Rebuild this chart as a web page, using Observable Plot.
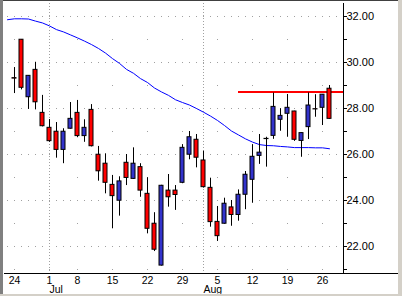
<!DOCTYPE html>
<html><head><meta charset="utf-8">
<script src="https://cdn.jsdelivr.net/npm/d3@7"></script>
<script src="https://cdn.jsdelivr.net/npm/@observablehq/plot@0.6"></script>
<style>
html,body{margin:0;padding:0;background:#d4d0c8;}
#wrap{position:relative;width:402px;height:296px;overflow:hidden;background:#d4d0c8;}
#wrap svg{position:absolute;left:0;top:0;}
.b{position:absolute;pointer-events:none;}
</style></head><body><div id="wrap"></div>
<script>
// trading sessions (first one only carries the moving average)
const sessions = ["2002-06-21","2002-06-24","2002-06-25","2002-06-26","2002-06-27","2002-06-28",
"2002-07-01","2002-07-02","2002-07-03","2002-07-05",
"2002-07-08","2002-07-09","2002-07-10","2002-07-11","2002-07-12",
"2002-07-15","2002-07-16","2002-07-17","2002-07-18","2002-07-19",
"2002-07-22","2002-07-23","2002-07-24","2002-07-25","2002-07-26",
"2002-07-29","2002-07-30","2002-07-31","2002-08-01","2002-08-02",
"2002-08-05","2002-08-06","2002-08-07","2002-08-08","2002-08-09",
"2002-08-12","2002-08-13","2002-08-14","2002-08-15","2002-08-16",
"2002-08-19","2002-08-20","2002-08-21","2002-08-22","2002-08-23",
"2002-08-26","2002-08-27"];
const candleDates = sessions.slice(1);
const opens  = [29.32,30.99,28.49,29.68,27.81,27.16,26.99,26.20,27.12,27.81,26.80,27.94,25.99,25.60,24.68,23.99,25.64,24.94,25.45,24.29,22.99,21.17,24.43,24.43,24.77,25.99,26.64,25.74,24.55,23.07,22.99,23.70,23.37,24.25,24.90,25.94,26.68,26.81,27.51,27.77,27.87,26.59,27.19,27.97,28.03,28.86];
const highs  = [29.78,31.00,29.43,30.01,28.57,27.52,27.39,27.12,28.26,28.35,27.51,28.17,26.35,26.03,25.09,25.03,26.00,26.29,25.60,24.99,23.47,24.66,25.13,24.65,26.43,27.00,26.87,26.14,24.97,23.74,24.10,24.00,24.46,25.26,26.43,26.87,26.75,28.67,27.99,28.61,27.88,26.94,28.68,28.60,28.61,29.00];
const lows   = [28.65,28.81,27.96,27.94,27.20,26.53,25.84,25.60,27.10,26.73,26.53,26.33,24.84,24.29,22.77,23.32,24.65,24.92,24.14,22.55,21.78,21.15,23.71,23.57,24.73,25.77,25.42,24.54,22.84,22.22,22.97,22.88,23.10,23.60,23.88,25.57,25.45,26.66,27.01,26.75,26.57,25.88,26.65,27.62,27.26,27.53];
const closes = [29.30,28.90,29.42,28.27,27.23,26.58,26.20,26.99,27.55,26.80,27.16,26.36,25.27,24.77,24.19,24.83,24.98,25.60,24.43,22.77,21.86,24.64,24.14,24.24,26.29,26.75,25.86,24.58,23.06,22.45,23.86,23.37,24.25,25.12,25.90,26.08,26.67,28.07,27.68,28.03,26.64,26.93,28.13,27.96,28.60,27.55];
const maValues = [31.86,31.90,31.90,31.89,31.80,31.72,31.59,31.43,31.33,31.20,31.07,30.93,30.78,30.61,30.41,30.17,29.96,29.70,29.53,29.30,29.13,28.89,28.72,28.57,28.38,28.26,28.15,28.00,27.84,27.67,27.48,27.26,27.02,26.85,26.68,26.54,26.43,26.39,26.38,26.35,26.33,26.30,26.30,26.30,26.29,26.29,26.25];
const tickDates  = ["2002-06-24","2002-07-01","2002-07-08","2002-07-15","2002-07-22","2002-07-29","2002-08-05","2002-08-12","2002-08-19","2002-08-26"];
const tickLabels = ["24","1","8","15","22","29","5","12","19","26"];
const monthDates  = ["2002-07-01","2002-08-01"];
const monthLabels = ["Jul","Aug"];
const majorPrices = [22,24,26,28,30,32];
const minorPrices = [21,23,25,27,29,31];
const resistanceStart = ["2002-08-08"];
const resistanceLevel = [28.72];

const idx = new Map(sessions.map((d,i)=>[d,i]));
const candles = candleDates.map((d,k)=>({i: idx.get(d), open: opens[k], high: highs[k], low: lows[k], close: closes[k]}));
const ma = sessions.map((d,i)=>({i, v: maValues[i]}));
const xDomain = [48 - 339/7, 48];
const yDomain = [22 - 27/23, 32 + 13/23];
const gridX = d3.range(0, 48);
const majorGrid = d3.cross(gridX, majorPrices).map(([i,p])=>({i,p}));
const minorGrid = d3.cross(tickDates.map(d=>idx.get(d)), minorPrices).map(([i,p])=>({i,p}));
const ticks = tickDates.map((d,k)=>({i: idx.get(d), label: tickLabels[k]}));
const months = monthDates.map((d,k)=>({i: idx.get(d), label: monthLabels[k]}));
const resistance = resistanceStart.map((d,k)=>({i: idx.get(d), level: resistanceLevel[k]}));
const RED = "#ff0000", BLUE = "#3333cc", GRID = "#a0a0a0";
const hw = 2/7;

const chart = Plot.plot({
  width: 402, height: 296,
  marginLeft: 4, marginRight: 59, marginTop: 3, marginBottom: 23,
  style: {background: "white", color: "black", fontFamily: "'Liberation Sans', Arial, sans-serif", fontSize: "11px", overflow: "visible"},
  x: {type: "linear", domain: xDomain, axis: null},
  y: {domain: yDomain, label: null},
  marks: [
    Plot.dot(majorGrid, {x: "i", y: "p", symbol: "square", r: 0.5642, fill: GRID}),
    Plot.dot(minorGrid, {x: "i", y: "p", symbol: "square", r: 0.5642, fill: GRID}),
    Plot.ruleX(months, {x: "i", stroke: GRID, strokeDasharray: "1,2"}),
    Plot.line(ma, {x: "i", y: "v", stroke: "#0000ff", strokeWidth: 1}),
    Plot.ruleY(resistance, {y: "level", x1: "i", x2: xDomain[1], stroke: RED, strokeWidth: 2}),
    Plot.ruleX(candles, {x: "i", y1: "low", y2: "high", stroke: "black"}),
    Plot.rect(candles, {x1: d => d.i - hw, x2: d => d.i + hw, y1: "open", y2: "close",
      fill: d => d.close >= d.open ? BLUE : RED, stroke: "black", strokeWidth: 1}),
    Plot.ruleX([xDomain[1]], {stroke: "black"}),
    Plot.ruleY([yDomain[0]], {stroke: "black", insetRight: -55}),
    Plot.axisY(minorPrices, {anchor: "right", tickSize: 3, tickFormat: () => "", label: null}),
    Plot.axisY(majorPrices, {anchor: "right", tickSize: 3, tickPadding: 0, tickFormat: d3.format(".2f"), fontSize: 11, label: null}),
    Plot.text(ticks, {x: "i", text: "label", frameAnchor: "bottom", dy: 7, lineAnchor: "middle", fontSize: 10.5}),
    Plot.text(months, {x: "i", text: "label", frameAnchor: "bottom", dy: 16.5, textAnchor: "start", lineAnchor: "middle", fontSize: 10.5})
  ]
});
const wrap = document.getElementById("wrap");
wrap.appendChild(chart);
const borders = [
  {l:0,t:0,w:402,h:1,c:"#404040"},
  {l:0,t:0,w:3,h:296,c:"#808080"},
  {l:398,t:0,w:4,h:296,c:"#d4d0c8"},
  {l:0,t:294,w:402,h:2,c:"#d4d0c8"}
];
for (const b of borders) {
  const e = document.createElement("div");
  e.className = "b";
  Object.assign(e.style, {left: b.l+"px", top: b.t+"px", width: b.w+"px", height: b.h+"px", background: b.c});
  wrap.appendChild(e);
}
</script></body></html>
